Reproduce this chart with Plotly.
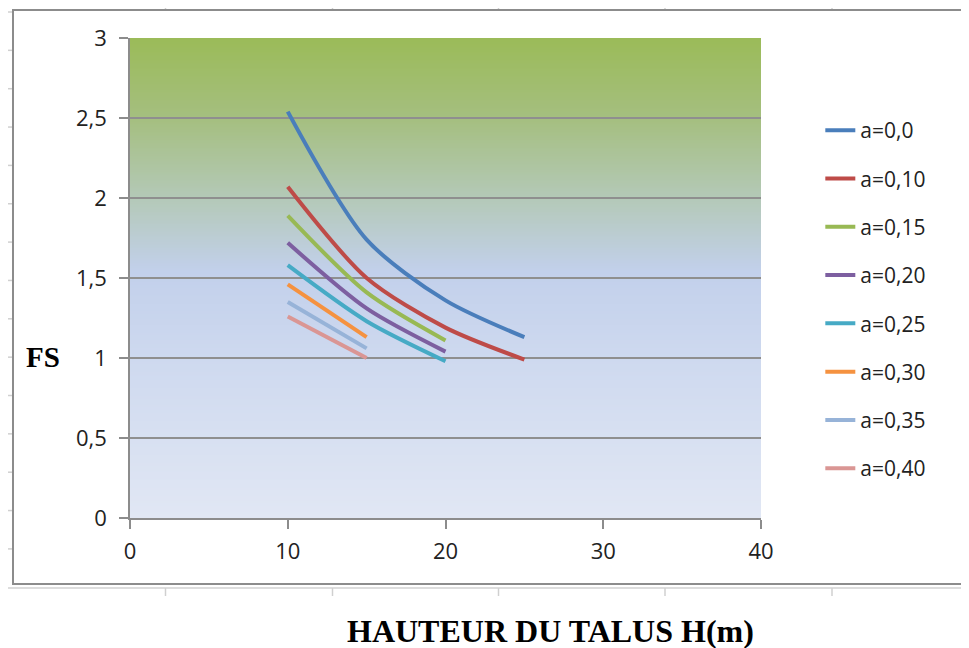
import base64
import struct
import zlib

import plotly.graph_objects as go

# hauteur du talus H (m)
h_long = [10, 15, 20, 25]
h_mid = [10, 15, 20]
h_short = [10, 15]

# facteur de securite FS pour chaque coefficient a
fs_a00 = [2.54, 1.74, 1.36, 1.13]
fs_a10 = [2.07, 1.50, 1.19, 0.99]
fs_a15 = [1.89, 1.41, 1.11]
fs_a20 = [1.72, 1.31, 1.04]
fs_a25 = [1.58, 1.23, 0.98]
fs_a30 = [1.46, 1.13]
fs_a35 = [1.35, 1.06]
fs_a40 = [1.26, 1.00]

series = [
    ("a=0,0", h_long, fs_a00, "#4a7ebb"),
    ("a=0,10", h_long, fs_a10, "#be4b48"),
    ("a=0,15", h_mid, fs_a15, "#98b954"),
    ("a=0,20", h_mid, fs_a20, "#7d5fa0"),
    ("a=0,25", h_mid, fs_a25, "#46aac5"),
    ("a=0,30", h_short, fs_a30, "#f59240"),
    ("a=0,35", h_short, fs_a35, "#97b3d8"),
    ("a=0,40", h_short, fs_a40, "#da9694"),
]

# the page body has an 8px margin, so the figure is shifted by that
OFF = 8
W, H = 969 - OFF, 648 - OFF
L, R, T, B = 130, 761, 38, 518


def px(x):
    return (x - L) / (R - L)


def py_(y):
    return (B - y) / (B - T)


def gradient_png():
    # vertical gradient, top = FS 3, bottom = FS 0
    stops = [(3.0, (155, 187, 89)), (2.5, (165, 191, 128)), (2.0, (180, 201, 184)),
             (1.55, (194, 208, 235)), (1.0, (206, 217, 239)), (0.0, (225, 231, 244))]
    n = 300
    rows = b""
    for i in range(n):
        v = 3.0 - 3.0 * i / (n - 1)
        for (a, ca), (b, cb) in zip(stops[:-1], stops[1:]):
            if b <= v <= a:
                t = (a - v) / (a - b)
                c = [round(ca[k] + (cb[k] - ca[k]) * t) for k in range(3)]
                break
        rows += b"\x00" + bytes(c)

    def chunk(tag, data):
        return struct.pack(">I", len(data)) + tag + data + struct.pack(">I", zlib.crc32(tag + data) & 0xffffffff)

    png = b"\x89PNG\r\n\x1a\n"
    png += chunk(b"IHDR", struct.pack(">IIBBBBB", 1, n, 8, 2, 0, 0, 0))
    png += chunk(b"IDAT", zlib.compress(rows))
    png += chunk(b"IEND", b"")
    return "data:image/png;base64," + base64.b64encode(png).decode()


fig = go.Figure()
for i, (name, x, y, color) in enumerate(series):
    fig.add_trace(go.Scatter(
        x=x, y=y, name=name, mode="lines",
        line=dict(color=color, width=4, shape="spline", smoothing=0.8),
        legendgroup=name,
    ))

axis_font = dict(family="Open Sans", size=22, color="#222222")

fig.update_layout(
    width=W, height=H,
    margin=dict(l=L - OFF, r=W - (R - OFF), t=T - OFF, b=H - (B - OFF)),
    paper_bgcolor="white",
    plot_bgcolor="white",
    showlegend=True,
    legend=dict(
        x=1.094, y=0.85, xanchor="left", yanchor="top",
        font=dict(family="Open Sans", size=21, color="#222222"),
        traceorder="grouped", tracegroupgap=18,
        bgcolor="rgba(0,0,0,0)",
    ),
    xaxis=dict(
        range=[0, 40], tickvals=[0, 10, 20, 30, 40],
        showgrid=False, zeroline=False,
        showline=True, linecolor="#8c8c8c", linewidth=1.5,
        ticks="outside", ticklen=9, tickcolor="#8c8c8c", tickwidth=1.5,
        tickfont=axis_font, ticklabelstandoff=4,
    ),
    yaxis=dict(
        range=[0, 3], tickvals=[0, 0.5, 1, 1.5, 2, 2.5, 3],
        ticktext=["0", "0,5", "1", "1,5", "2", "2,5", "3"],
        showgrid=True, gridcolor="#8f8f8f", gridwidth=1.5,
        zeroline=False,
        showline=True, linecolor="#8c8c8c", linewidth=1.5,
        ticks="outside", ticklen=9, tickcolor="#8c8c8c", tickwidth=1.5,
        tickfont=axis_font, ticklabelstandoff=8,
    ),
    images=[dict(
        source=gradient_png(), xref="x", yref="y", x=0, y=3,
        sizex=40, sizey=3, sizing="stretch", layer="below",
    )],
)

# cadre du graphique
shapes = [dict(type="rect", xref="paper", yref="paper",
               x0=px(13), x1=px(990), y0=py_(584), y1=py_(10),
               line=dict(color="#8c8c8c", width=2), fillcolor="rgba(0,0,0,0)")]
# lignes de la feuille autour
shapes.append(dict(type="line", xref="paper", yref="paper", x0=px(4), x1=px(990),
                   y0=py_(588), y1=py_(588), line=dict(color="#dddddd", width=2)))
for k in range(15):
    yy = 12 + 38.35 * k
    shapes.append(dict(type="line", xref="paper", yref="paper", x0=px(3), x1=px(12),
                       y0=py_(yy), y1=py_(yy), line=dict(color="#d0d0d0", width=1.5)))
for xx in [165.5, 332.5, 498.5, 665, 832]:
    shapes.append(dict(type="line", xref="paper", yref="paper", x0=px(xx), x1=px(xx),
                       y0=py_(0), y1=py_(9), line=dict(color="#d0d0d0", width=1.5)))
    shapes.append(dict(type="line", xref="paper", yref="paper", x0=px(xx), x1=px(xx),
                       y0=py_(588), y1=py_(596), line=dict(color="#d0d0d0", width=1.5)))
fig.update_layout(shapes=shapes)

fig.add_annotation(text="<b>HAUTEUR DU TALUS H(m)</b>", xref="paper", yref="paper",
                   x=px(550), y=py_(631), xanchor="center", yanchor="middle",
                   showarrow=False,
                   font=dict(family="Liberation Serif", size=32, color="black"))
fig.add_annotation(text="<b>FS</b>", xref="paper", yref="paper",
                   x=px(43), y=py_(357), xanchor="center", yanchor="middle",
                   showarrow=False,
                   font=dict(family="Liberation Serif", size=29, color="black"))

fig.write_html("out.html")
